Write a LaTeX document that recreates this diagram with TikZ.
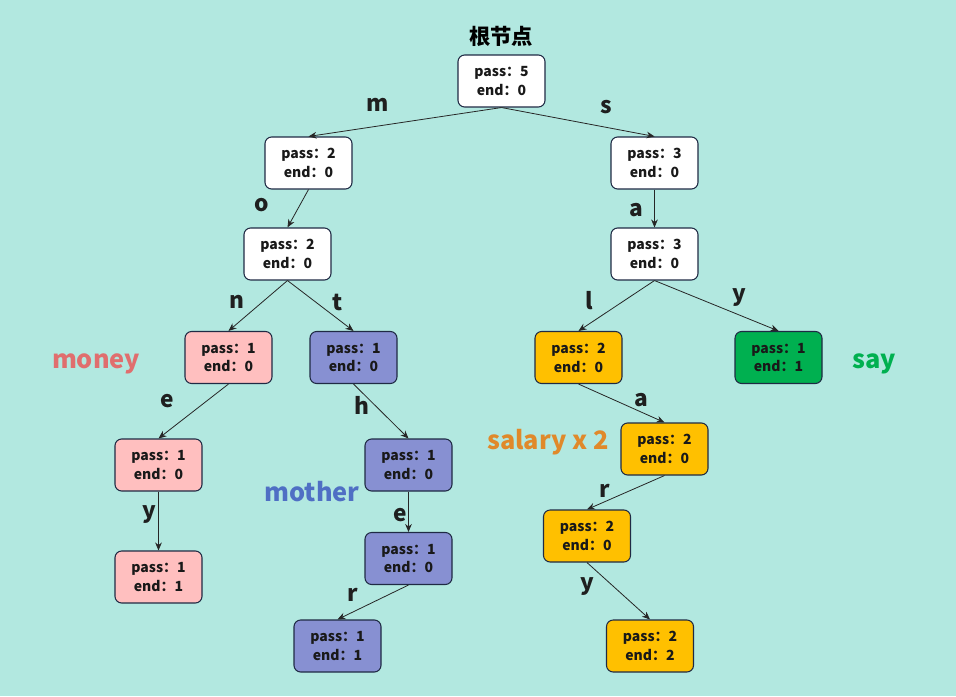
\documentclass[tikz,border=0pt]{standalone}
\usepackage{fontspec}
\setmainfont{Noto Sans CJK SC}
\usetikzlibrary{arrows.meta}
\definecolor{bg}{HTML}{B2E8E0}
\definecolor{bd}{HTML}{1F2A44}
\definecolor{pinkf}{HTML}{FFBFBF}
\definecolor{purpf}{HTML}{8790D2}
\definecolor{orgf}{HTML}{FFC000}
\definecolor{grnf}{HTML}{00B050}
\definecolor{moneyc}{HTML}{E06E6E}
\definecolor{motherc}{HTML}{4F6FC4}
\definecolor{salaryc}{HTML}{E0892A}
\definecolor{sayc}{HTML}{00B050}
\tikzset{
  trie/.style={draw=bd, line width=0.8pt, rounded corners=5pt, minimum width=65.25pt, minimum height=39pt, align=center, font=\bfseries\fontsize{10.5}{14.2}\selectfont, text=black!90, inner sep=0pt},
  wbox/.style={trie, fill=white},
  pbox/.style={trie, fill=pinkf},
  ubox/.style={trie, fill=purpf},
  obox/.style={trie, fill=orgf},
  gbox/.style={trie, fill=grnf},
  edge/.style={draw=black!85, line width=0.6pt, -{Stealth[length=6pt,width=5pt]}},
  lbl/.style={font=\bfseries\fontsize{17}{17}\selectfont, text=black!88},
  side/.style={font=\bfseries\fontsize{19}{19}\selectfont}
}
\begin{document}
\begin{tikzpicture}[x=0.75pt,y=-0.75pt]
\fill[bg] (0,0) rectangle (956,696);
\useasboundingbox (0,0) rectangle (956,696);
\node[font=\bfseries\fontsize{16}{16}\selectfont] (title) at (501,36) {根节点};
\node[wbox] (root) at (501.5,81) {pass：5\\end：0};
\node[wbox] (m) at (308.5,163) {pass：2\\end：0};
\node[wbox] (s) at (654.5,163) {pass：3\\end：0};
\node[wbox] (o) at (287.5,254) {pass：2\\end：0};
\node[wbox] (sa) at (654.5,254) {pass：3\\end：0};
\node[pbox] (n) at (228.5,357.5) {pass：1\\end：0};
\node[ubox] (t) at (353.5,357.5) {pass：1\\end：0};
\node[obox] (l) at (578.5,357.5) {pass：2\\end：0};
\node[gbox] (y1) at (778.5,357.5) {pass：1\\end：1};
\node[pbox] (ne) at (158.5,465) {pass：1\\end：0};
\node[ubox] (h) at (408.5,465) {pass：1\\end：0};
\node[obox] (la) at (664.5,449) {pass：2\\end：0};
\node[pbox] (ny) at (158.5,577) {pass：1\\end：1};
\node[ubox] (he) at (408.5,558.5) {pass：1\\end：0};
\node[obox] (lr) at (587,536) {pass：2\\end：0};
\node[ubox] (hr) at (337.5,646) {pass：1\\end：1};
\node[obox] (ly) at (650,646) {pass：2\\end：2};

\draw[edge] (root.south) -- (m.north);
\draw[edge] (root.south) -- (s.north);
\draw[edge] (m.south) -- (o.north);
\draw[edge] (s.south) -- (sa.north);
\draw[edge] (o.south) -- (n.north);
\draw[edge] (o.south) -- (t.north);
\draw[edge] (sa.south) -- (l.north);
\draw[edge] (sa.south) -- (y1.north);
\draw[edge] (n.south) -- (ne.north);
\draw[edge] (ne.south) -- (ny.north);
\draw[edge] (t.south) -- (h.north);
\draw[edge] (h.south) -- (he.north);
\draw[edge] (he.south) -- (hr.north);
\draw[edge] (l.south) -- (la.north);
\draw[edge] (la.south) -- (lr.north);
\draw[edge] (lr.south) -- (ly.north);

\node[lbl] (lm) at (378,105) {m};
\node[lbl] (ls) at (606,107) {s};
\node[lbl] (lo) at (262,205) {o};
\node[lbl] (la1) at (636,210) {a};
\node[lbl] (ln) at (237,302) {n};
\node[lbl] (lt) at (338,302) {t};
\node[lbl] (ll) at (589,301) {l};
\node[lbl] (ly1) at (739,298) {y};
\node[lbl] (le1) at (167,401) {e};
\node[lbl] (lh) at (362,405) {h};
\node[lbl] (la2) at (641,400) {a};
\node[lbl] (ly2) at (149,515) {y};
\node[lbl] (le2) at (400,515) {e};
\node[lbl] (lr1) at (605,491) {r};
\node[lbl] (lr2) at (353,595) {r};
\node[lbl] (ly3) at (587,587) {y};

\node[side, text=moneyc] (money) at (96,364) {money};
\node[side, text=motherc] (mother) at (312,492) {mother};
\node[side, text=salaryc] (salary) at (548,442) {salary x 2};
\node[side, text=sayc] (say) at (874,364) {say};
\end{tikzpicture}
\end{document}
